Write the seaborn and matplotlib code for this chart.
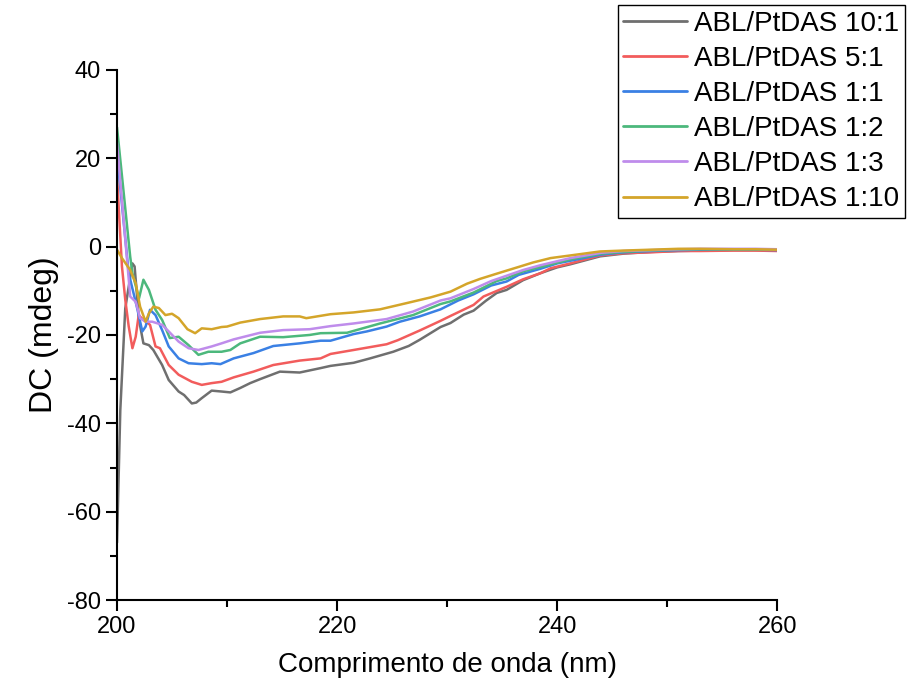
import matplotlib
matplotlib.use("Agg")
import pandas as pd
import matplotlib.pyplot as plt
import seaborn as sns

# Espectros de DC
labels = ["ABL/PtDAS 10:1", "ABL/PtDAS 5:1", "ABL/PtDAS 1:1",
          "ABL/PtDAS 1:2", "ABL/PtDAS 1:3", "ABL/PtDAS 1:10"]
colors = ["#6f6f6f", "#f25c5c", "#3a80e4", "#4cb87c", "#bf8ceb", "#d4a52a"]

wl_10_1 = [200.0, 200.3, 200.75, 201.4, 201.6, 202.0, 202.4, 202.9, 203.3, 204.1, 204.7, 205.6,
           206.1, 206.8, 207.2, 207.7, 208.6, 209.5, 210.3, 211.2, 212.1, 213.0, 214.8, 216.6,
           218.5, 219.4, 221.5, 223.0, 225.1, 226.5, 227.5, 229.4, 230.3, 231.5, 232.4, 233.5,
           234.5, 235.4, 236.9, 238.5, 240.0, 241.2, 243.9, 246.0, 248.5, 251.0, 253.0, 256.0,
           258.0, 260.0]
dc_10_1 = [-67.0, -37.0, -14.0, -3.8, -4.5, -16.6, -21.9, -22.3, -23.4, -26.8, -30.2, -32.8,
           -33.6, -35.5, -35.3, -34.3, -32.6, -32.8, -33.0, -32.0, -30.9, -30.0, -28.3, -28.5,
           -27.5, -27.0, -26.3, -25.3, -23.8, -22.5, -21.1, -18.2, -17.3, -15.4, -14.5, -12.3,
           -10.5, -9.8, -7.6, -6.0, -4.7, -4.0, -2.2, -1.6, -1.2, -1.0, -0.9, -0.8,
           -0.8, -0.8]

wl_5_1 = [200.0, 200.45, 200.75, 201.06, 201.4, 201.7, 201.97, 202.4, 203.0, 203.5, 203.9, 204.7,
          205.6, 206.8, 207.7, 208.6, 209.5, 210.6, 212.4, 214.2, 216.6, 218.5, 219.4, 221.5,
          224.5, 225.5, 227.5, 229.4, 230.3, 232.4, 233.3, 235.4, 236.9, 238.5, 239.4, 241.2,
          243.9, 246.0, 248.5, 251.0, 253.0, 256.0, 258.0, 260.0]
dc_5_1 = [16.0, -4.5, -12.0, -18.0, -23.0, -20.4, -15.5, -16.6, -17.7, -22.6, -23.0, -26.8,
          -29.0, -30.6, -31.3, -30.9, -30.6, -29.6, -28.3, -26.8, -25.8, -25.3, -24.3, -23.4,
          -22.1, -21.2, -19.0, -16.8, -15.7, -13.2, -11.3, -9.1, -7.4, -6.0, -4.9, -3.8,
          -2.0, -1.5, -1.3, -1.0, -1.0, -0.9, -0.9, -1.0]

wl_1_1 = [200.0, 201.06, 201.8, 202.3, 202.6, 203.0, 203.5, 204.1, 204.7, 205.6, 206.5, 207.7,
          208.6, 209.4, 210.6, 212.4, 214.2, 216.6, 218.5, 219.4, 221.5, 222.7, 224.5, 225.7,
          227.5, 229.4, 231.0, 232.4, 234.0, 235.4, 236.5, 238.5, 240.0, 241.2, 244.0, 246.0,
          248.5, 251.0, 253.0, 256.0, 258.0, 260.0]
dc_1_1 = [21.0, -6.0, -13.6, -19.2, -18.1, -14.3, -15.5, -18.9, -22.6, -25.3, -26.4, -26.6,
          -26.4, -26.6, -25.3, -24.1, -22.5, -21.9, -21.3, -21.3, -19.8, -19.2, -18.1, -17.0,
          -15.8, -14.2, -12.2, -10.8, -8.8, -7.9, -6.4, -5.0, -3.8, -3.2, -1.8, -1.3,
          -1.0, -0.8, -0.7, -0.7, -0.7, -0.8]

wl_1_2 = [200.0, 201.2, 201.4, 202.0, 202.4, 202.9, 203.5, 204.1, 204.8, 205.6, 206.5, 207.4,
          208.3, 209.5, 210.3, 211.2, 213.0, 215.1, 217.5, 218.5, 220.9, 223.9, 226.9, 229.4,
          230.3, 232.4, 234.5, 235.4, 236.9, 238.5, 241.2, 244.0, 246.0, 248.5, 251.0, 253.0,
          256.0, 258.0, 260.0]
dc_1_2 = [27.0, -2.3, -6.0, -11.7, -7.5, -9.8, -14.3, -16.6, -20.7, -20.4, -22.3, -24.5,
          -23.8, -23.8, -23.4, -21.9, -20.4, -20.5, -20.0, -19.6, -19.5, -17.4, -15.5, -13.0,
          -12.4, -10.4, -7.8, -7.2, -5.6, -4.6, -2.9, -1.6, -1.2, -0.9, -0.7, -0.6,
          -0.6, -0.6, -0.7]

wl_1_3 = [200.0, 201.2, 201.7, 202.1, 202.6, 203.2, 204.1, 204.7, 205.6, 206.5, 207.4, 208.6,
          209.5, 210.6, 213.0, 215.1, 217.5, 219.4, 221.5, 224.5, 226.9, 229.4, 230.3, 232.4,
          234.0, 235.4, 236.9, 238.5, 241.2, 244.0, 246.0, 248.5, 251.0, 253.0, 256.0, 258.0,
          260.0]
dc_1_3 = [23.5, -11.3, -12.5, -16.2, -17.0, -17.0, -17.7, -19.2, -21.5, -23.0, -23.4, -22.6,
          -21.9, -21.0, -19.5, -18.9, -18.7, -18.0, -17.4, -16.4, -14.7, -12.2, -11.7, -9.6,
          -7.8, -6.6, -5.3, -4.2, -2.6, -1.4, -1.0, -0.8, -0.6, -0.5, -0.5, -0.5,
          -0.6]

wl_1_10 = [200.0, 200.45, 201.2, 201.7, 202.1, 202.6, 202.9, 203.3, 203.8, 204.4, 205.0, 205.6,
           206.4, 207.1, 207.7, 208.6, 209.5, 210.0, 211.2, 213.0, 215.1, 216.6, 217.2, 219.4,
           221.5, 223.9, 226.3, 228.5, 230.3, 231.8, 233.0, 234.8, 236.5, 237.8, 239.4, 241.2,
           243.9, 246.0, 248.5, 251.0, 253.0, 256.0, 258.0, 260.0]
dc_1_10 = [-0.7, -2.6, -5.3, -8.3, -13.6, -17.0, -15.1, -13.6, -13.9, -15.5, -15.2, -16.2,
           -18.7, -19.6, -18.5, -18.7, -18.2, -18.1, -17.2, -16.4, -15.8, -15.8, -16.2, -15.3,
           -14.9, -14.2, -12.8, -11.5, -10.2, -8.4, -7.3, -5.9, -4.6, -3.6, -2.6, -2.0,
           -1.1, -0.9, -0.7, -0.5, -0.5, -0.6, -0.6, -0.7]

series = [(wl_10_1, dc_10_1), (wl_5_1, dc_5_1), (wl_1_1, dc_1_1),
          (wl_1_2, dc_1_2), (wl_1_3, dc_1_3), (wl_1_10, dc_1_10)]

sns.set_style("ticks")
plt.rcParams['font.family'] = ['Liberation Sans', 'DejaVu Sans']
plt.rcParams['axes.unicode_minus'] = False
plt.rcParams['text.color'] = 'black'
plt.rcParams['axes.labelcolor'] = 'black'
plt.rcParams['xtick.color'] = 'black'
plt.rcParams['ytick.color'] = 'black'

fig = plt.figure(figsize=(9.07, 6.85), dpi=100)
ax = fig.add_axes([0.129, 0.124, 0.728, 0.774])

for (wl, dc), lab, col in zip(series, labels, colors):
    df = pd.DataFrame({"wl": wl, "dc": dc})
    sns.lineplot(data=df, x="wl", y="dc", color=col, linewidth=1.8,
                 label=lab, estimator=None, sort=False, ax=ax)

handles, labs = ax.get_legend_handles_labels()
if ax.get_legend() is not None:
    ax.get_legend().remove()

ax.set_xlim(200, 260)
ax.set_ylim(-80, 40)
ax.set_xticks(range(200, 261, 20))
ax.set_xticks(range(200, 261, 10), minor=True)
ax.set_yticks(range(-80, 41, 20))
ax.set_yticks(range(-80, 41, 10), minor=True)
ax.tick_params(which="major", direction="out", length=8, width=1.5, labelsize=17,
               colors="black", labelcolor="black")
ax.tick_params(which="minor", direction="out", length=5, width=1.5, colors="black")
for s in ["left", "bottom"]:
    ax.spines[s].set_linewidth(1.5)
    ax.spines[s].set_color("black")
sns.despine(ax=ax)

ax.set_xlabel("Comprimento de onda (nm)", fontsize=20, labelpad=10, color="black")
ax.set_ylabel("DC (mdeg)", fontsize=23, labelpad=6, color="black")

leg = fig.legend(handles, labs, loc="upper right", bbox_to_anchor=(905 / 907, 1 - 5 / 685),
                 fontsize=20, frameon=True, fancybox=False, edgecolor="black", framealpha=1,
                 handlelength=2.3, handletextpad=0.25, labelspacing=0.33, borderpad=0.2,
                 borderaxespad=0, labelcolor="black")
leg.get_frame().set_linewidth(1.0)
for h in leg.get_lines():
    h.set_linewidth(2.0)

fig.savefig("out.png", dpi=100)
